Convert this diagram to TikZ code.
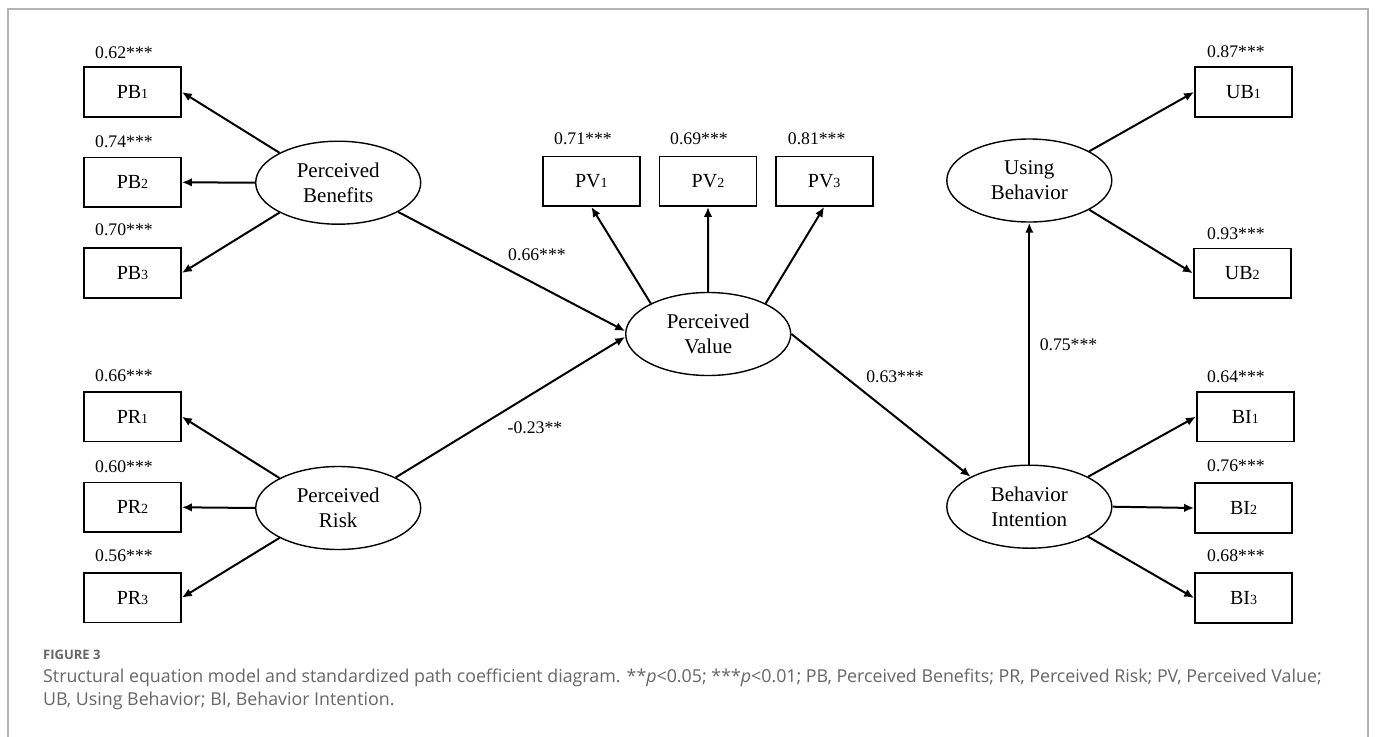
\documentclass[tikz,border=0pt]{standalone}
\usepackage{fontspec}
\setmainfont{Liberation Serif}
\newfontfamily\capfont{Open Sans}
\usetikzlibrary{shapes.geometric,arrows.meta}
\definecolor{capgray}{HTML}{666666}
\definecolor{framegray}{HTML}{B4B4B4}
\newcommand\sbn[1]{{\fontsize{14}{14}\selectfont #1}}
\begin{document}
\begin{tikzpicture}[x=1pt,y=-1pt,
  box/.style={draw,line width=1.7pt,minimum width=97pt,minimum height=49.5pt,inner sep=0pt,font=\fontsize{20}{24}\selectfont},
  lat/.style={draw,ellipse,line width=1.4pt,minimum width=165pt,minimum height=83pt,inner sep=0pt,align=center,font=\fontsize{21}{25}\selectfont},
  coef/.style={inner sep=0pt,font=\fontsize{17.7}{20}\selectfont},
  arr/.style={-{Latex[length=10pt,width=8.5pt]},line width=2pt},
  captext/.style={anchor=base west,inner sep=0pt,text=capgray,font=\capfont\fontsize{17.8}{21}\selectfont},
]
\useasboundingbox (0,0) rectangle (1375,736);
\fill[white] (0,0) rectangle (1375,736);
\draw[framegray,line width=1.2pt] (8,737) -- (8,9) -- (1368,9) -- (1368,737);

% measurement boxes
\node[box] (pb1) at (132.5,92) {PB\sbn{1}};
\node[box] (pb2) at (132.5,182.3) {PB\sbn{2}};
\node[box] (pb3) at (132.5,273) {PB\sbn{3}};
\node[box] (pr1) at (132.5,416.7) {PR\sbn{1}};
\node[box] (pr2) at (132.5,507.3) {PR\sbn{2}};
\node[box] (pr3) at (132.5,597.7) {PR\sbn{3}};
\node[box] (pv1) at (591.3,181.3) {PV\sbn{1}};
\node[box] (pv2) at (708,181.3) {PV\sbn{2}};
\node[box] (pv3) at (824.2,181.3) {PV\sbn{3}};
\node[box] (ub1) at (1243.5,92) {UB\sbn{1}};
\node[box] (ub2) at (1242.3,273.3) {UB\sbn{2}};
\node[box] (bi1) at (1245.3,416.7) {BI\sbn{1}};
\node[box] (bi2) at (1243.5,508) {BI\sbn{2}};
\node[box] (bi3) at (1243.5,598) {BI\sbn{3}};

% latent variables
\node[lat] (pb) at (338.2,182.7) {Perceived\\Benefits};
\node[lat] (pr) at (338.2,508) {Perceived\\Risk};
\node[lat] (pv) at (708.2,334) {Perceived\\Value};
\node[lat] (ub) at (1029.3,180.5) {Using\\Behavior};
\node[lat] (bi) at (1029.3,506.7) {Behavior\\Intention};

% loading labels
\node[coef,anchor=west] (l1) at (95,52.7) {0.62***};
\node[coef,anchor=west] (l2) at (95,141.7) {0.74***};
\node[coef,anchor=west] (l3) at (95,230) {0.70***};
\node[coef,anchor=west] (l4) at (95,376) {0.66***};
\node[coef,anchor=west] (l5) at (95,466.7) {0.60***};
\node[coef,anchor=west] (l6) at (95,556) {0.56***};
\node[coef,anchor=west] (l7) at (554,139) {0.71***};
\node[coef,anchor=west] (l8) at (670,139) {0.69***};
\node[coef,anchor=west] (l9) at (787.7,139) {0.81***};
\node[coef,anchor=west] (l10) at (1207,51.7) {0.87***};
\node[coef,anchor=west] (l11) at (1207,233.3) {0.93***};
\node[coef,anchor=west] (l12) at (1207,376.7) {0.64***};
\node[coef,anchor=west] (l13) at (1207,466) {0.76***};
\node[coef,anchor=west] (l14) at (1207,556) {0.68***};

% path labels
\node[coef] (c1) at (537,255) {0.66***};
\node[coef] (c2) at (535,428) {-0.23**};
\node[coef] (c3) at (895,377) {0.63***};
\node[coef] (c4) at (1068.5,345) {0.75***};

% arrows
\draw[arr] (pb.153) -- (pb1.east);
\draw[arr] (pb.west) -- (pb2.east);
\draw[arr] (pb.207) -- (pb3.east);
\draw[arr] (pr.153) -- (pr1.east);
\draw[arr] (pr.west) -- (pr2.east);
\draw[arr] (pr.207) -- (pr3.east);
\draw[arr] (pb.334) -- (pv.178);
\draw[arr] (pr.28) -- (pv.182);
\draw[arr] (pv.152) -- (pv1.south);
\draw[arr] (pv.north) -- (pv2.south);
\draw[arr] (pv.28) -- (pv3.south);
\draw[arr] (pv.east) -- (bi.153);
\draw[arr] (bi.north) -- (ub.south);
\draw[arr] (ub.26) -- (ub1.west);
\draw[arr] (ub.334) -- (ub2.west);
\draw[arr] (bi.27) -- (bi1.west);
\draw[arr] (bi.east) -- (bi2.west);
\draw[arr] (bi.333) -- (bi3.west);

% caption
\node[captext,font=\capfont\bfseries\fontsize{13}{15}\selectfont] (fig) at (43,659) {FIGURE 3};
\node[captext] (cap1) at (43,682) {Structural equation model and standardized path coefficient diagram. **\textit{p}<0.05; ***\textit{p}<0.01; PB, Perceived Benefits; PR, Perceived Risk; PV, Perceived Value;};
\node[captext] (cap2) at (43,705) {UB, Using Behavior; BI, Behavior Intention.};
\end{tikzpicture}
\end{document}
